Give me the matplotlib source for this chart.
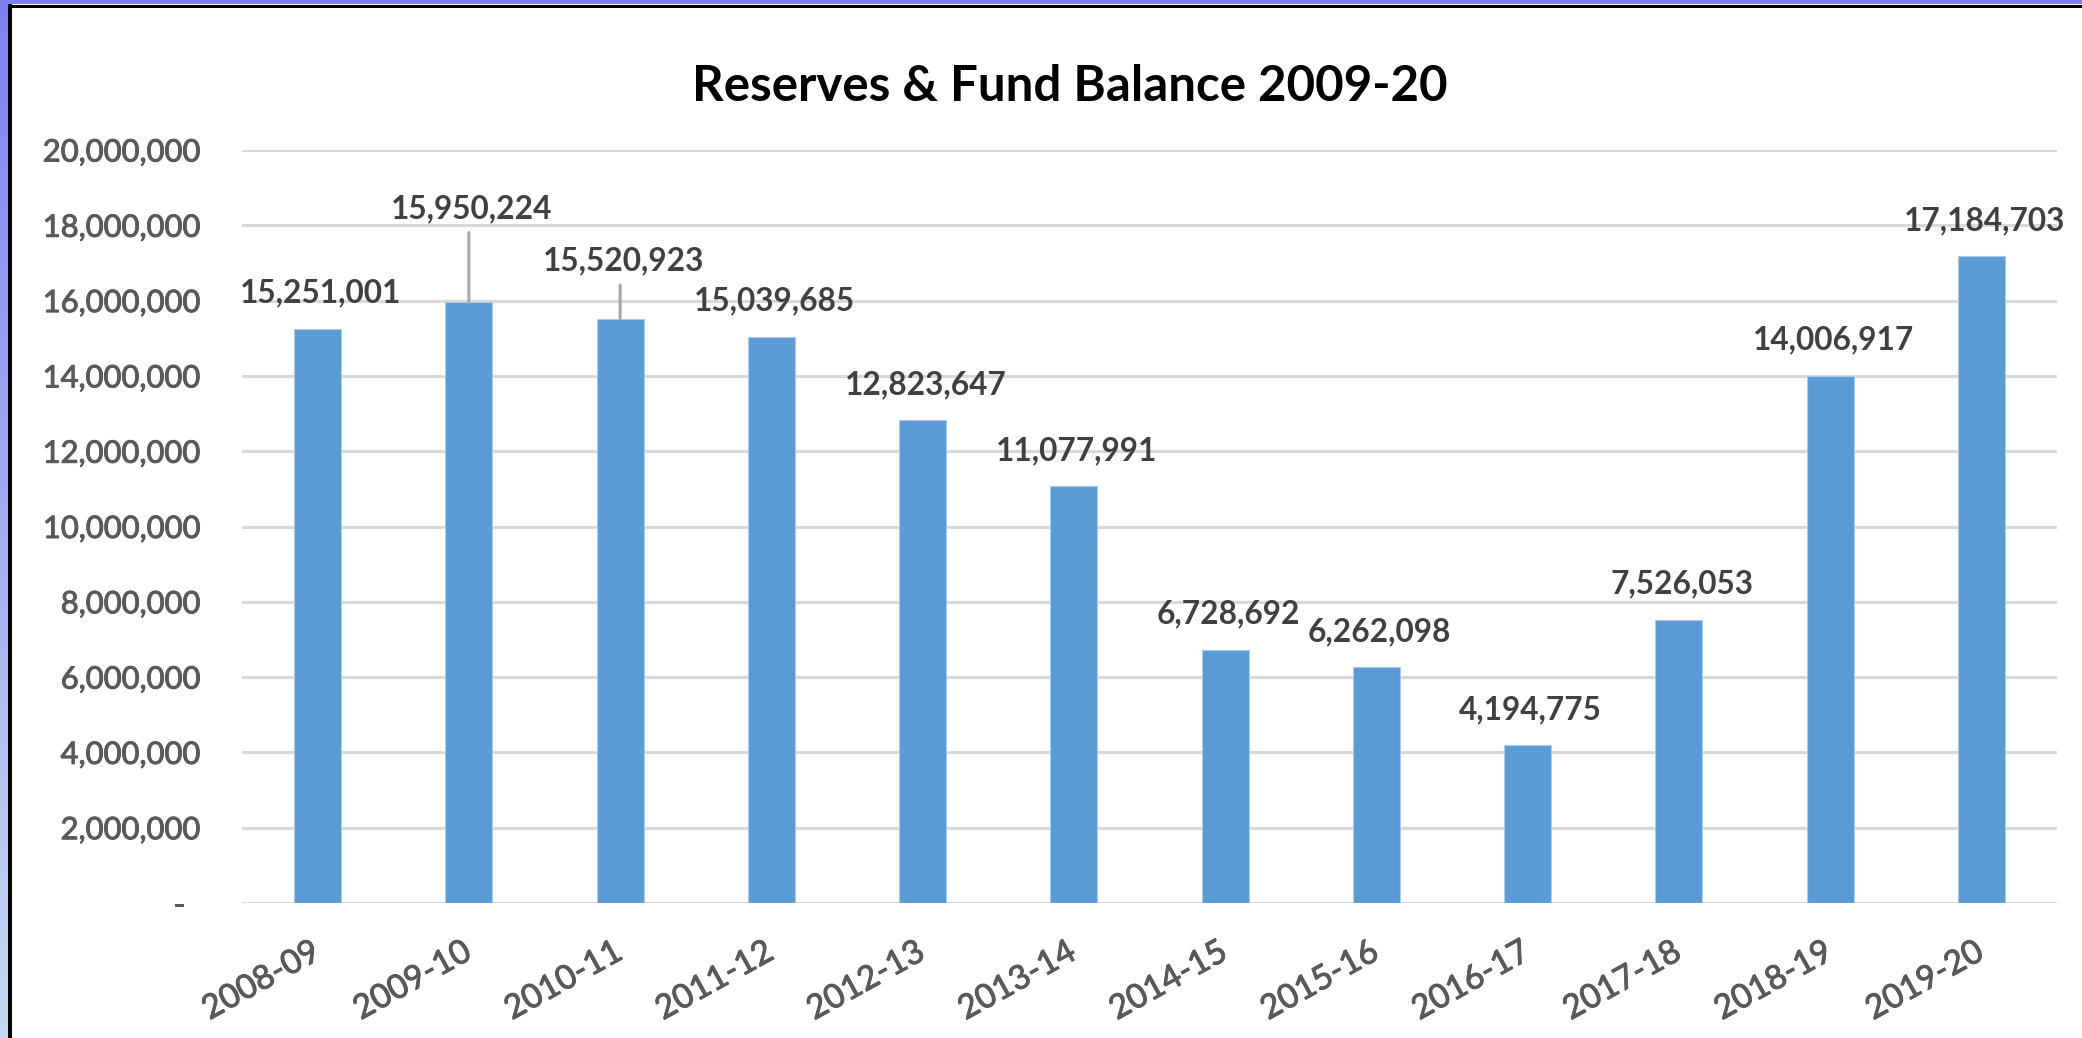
import matplotlib
matplotlib.use("Agg")
import matplotlib.pyplot as plt
import matplotlib.patheffects as pe
import numpy as np
from matplotlib.patches import Rectangle

# ---------------- data ----------------
years = ["2008-09", "2009-10", "2010-11", "2011-12", "2012-13", "2013-14",
         "2014-15", "2015-16", "2016-17", "2017-18", "2018-19", "2019-20"]
values = [15251001, 15950224, 15520923, 15039685, 12823647, 11077991,
          6728692, 6262098, 4194775, 7526053, 14006917, 17184703]
ytick_values = [0, 2000000, 4000000, 6000000, 8000000, 10000000,
                12000000, 14000000, 16000000, 18000000, 20000000]
title = "Reserves & Fund Balance 2009-20"

# label placement (pixels above bar top): baseline offsets and leader-line tops
label_base_px = [26, 84, 48.6, 26, 26, 26, 26, 26, 26, 26, 26, 26]
leader_top_px = [0, 70, 33.6, 0, 0, 0, 0, 0, 0, 0, 0, 0]

# ---------------- figure ----------------
W, H, DPI = 2082, 1038, 100
PT = 72.0 / DPI  # points per pixel
plt.rcParams["font.family"] = ["Lato", "DejaVu Sans"]

fig = plt.figure(figsize=(W / DPI, H / DPI), dpi=DPI)

# background gradient + white panel with black border (top/left)
bg = fig.add_axes([0, 0, 1, 1], zorder=-10)
g = np.linspace(0, 1, 256)[:, None, None]
top_c = np.array([128, 128, 245]) / 255.0
bot_c = np.array([196, 218, 242]) / 255.0
img = top_c + g * (bot_c - top_c)
bg.imshow(img, extent=[0, W, H, 0], aspect="auto", interpolation="bilinear")
bg.set_xlim(0, W)
bg.set_ylim(H, 0)
bg.axis("off")
bg.add_patch(Rectangle((8, 4), W, H, facecolor="white", edgecolor="none"))
bg.plot([8, W], [5.5, 5.5], color="black", lw=3 * PT, solid_capstyle="butt")
bg.plot([9.5, 9.5], [4, H], color="black", lw=4 * PT, solid_capstyle="butt")

# main axes
L, R, T, B = 242, 2057, 150, 903
ax = fig.add_axes([L / W, 1 - B / H, (R - L) / W, (B - T) / H])
ax.patch.set_alpha(0)
x = np.arange(len(years))
ax.bar(x, values, width=0.31, color="#5B9BD5", edgecolor="#A9CBEB",
       linewidth=0.8, zorder=3)
ax.set_xlim(-0.5, len(years) - 0.5)
ax.set_ylim(0, 20000000)
ax.set_yticks(ytick_values)
ax.set_yticklabels([f"{v:,}" if v else "-\u2002" for v in ytick_values])
ax.set_xticks(x)
ax.set_xticklabels(years, rotation=29, ha="right", va="center",
                   rotation_mode="anchor")
ax.grid(axis="y", color="#D9D9D9", lw=2.2, zorder=0)
ax.set_axisbelow(True)
for s in ax.spines.values():
    s.set_visible(False)
ax.tick_params(axis="both", length=0, labelcolor="#595959", labelsize=22)
ax.tick_params(axis="y", pad=42 * PT)
ax.tick_params(axis="x", pad=47 * PT)
heavier = [pe.withStroke(linewidth=0.7, foreground="#595959")]
for lab in ax.get_xticklabels() + ax.get_yticklabels():
    lab.set_path_effects(heavier)

# data labels
labels = []
for i, v in enumerate(values):
    t = ax.annotate(f"{v:,}", xy=(i, v), xytext=(3 * PT, label_base_px[i] * PT),
                    textcoords="offset points", ha="center", va="baseline",
                    fontsize=22, fontweight="bold", color="#404040", zorder=5,
                    annotation_clip=False)
    labels.append(t)
    if leader_top_px[i] > 0:
        ax.annotate("", xy=(i, v), xytext=(0, leader_top_px[i] * PT),
                    textcoords="offset points",
                    arrowprops=dict(arrowstyle="-", color="#A6A6A6",
                                    lw=3 * PT, shrinkA=0, shrinkB=0),
                    annotation_clip=False)

tt = fig.text(1070 / W, 1 - 101 / H, title, ha="center", va="baseline",
              fontsize=30, fontweight="bold", color="black")

# fit font sizes to measured text widths
fig.canvas.draw()
r = fig.canvas.get_renderer()

def scale_for(artist, target):
    return target / artist.get_window_extent(r).width

s = scale_for(ax.get_yticklabels()[-1], 157)
ax.tick_params(axis="y", labelsize=22 * s)
ax.tick_params(axis="x", labelsize=22 * s * 1.08)
sd = scale_for(labels[-1], 161)
for t in labels:
    t.set_fontsize(22 * sd)
st = scale_for(tt, 754)
tt.set_fontsize(30 * st)

fig.savefig("out.png", dpi=DPI)
